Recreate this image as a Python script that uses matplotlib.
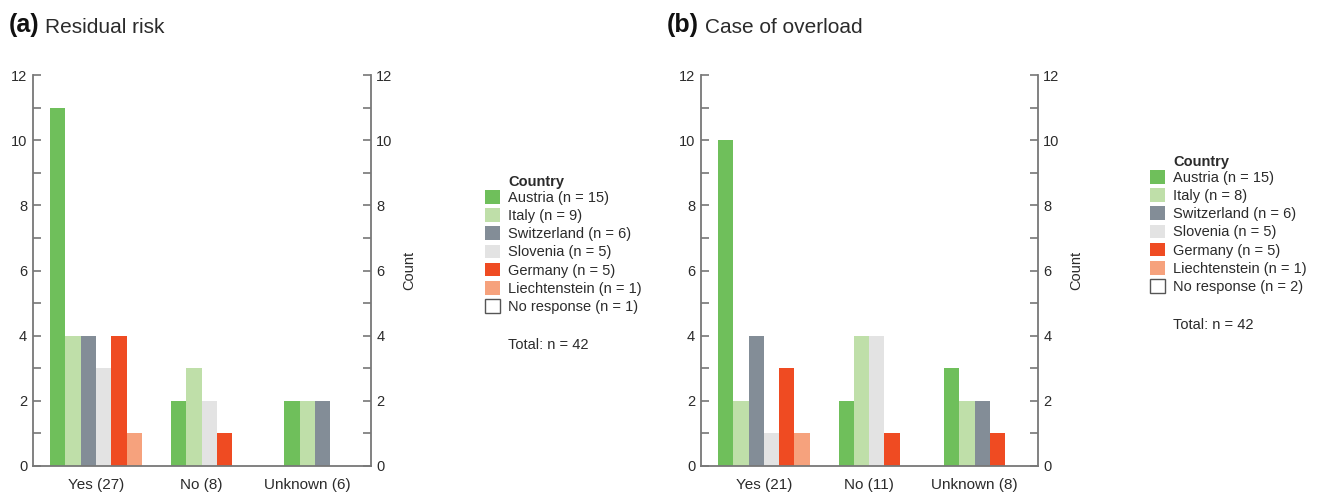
import numpy as np
import matplotlib
matplotlib.use("Agg")
import matplotlib.pyplot as plt
from matplotlib.patches import Patch

plt.rcParams['font.family'] = ['Liberation Sans', 'DejaVu Sans']

countries = ["Austria", "Italy", "Switzerland", "Slovenia", "Germany", "Liechtenstein"]
country_colors = ["#6fbf5b", "#bfdfa9", "#838d97", "#e3e3e3", "#ef4b22", "#f6a27d"]

# (a) Residual risk: counts per answer, in country order
risk_answers = ["Yes (27)", "No (8)", "Unknown (6)"]
risk_yes = [11, 4, 4, 3, 4, 1]
risk_no = [2, 3, 0, 2, 1, 0]
risk_unknown = [2, 2, 2, 0, 0, 0]
risk_country_n = [15, 9, 6, 5, 5, 1]
risk_no_response = 1

# (b) Case of overload
overload_answers = ["Yes (21)", "No (11)", "Unknown (8)"]
overload_yes = [10, 2, 4, 1, 3, 1]
overload_no = [2, 4, 0, 4, 1, 0]
overload_unknown = [3, 2, 2, 0, 1, 0]
overload_country_n = [15, 8, 6, 5, 5, 1]
overload_no_response = 2

total_n = 42

W, H = 1322, 496
fig = plt.figure(figsize=(W / 100, H / 100), dpi=100)

spine_col = "#777777"
text_col = "#2b2b2b"
bar_w = 0.145


def px(x, y):
    """Pixel position (from top-left) to figure fraction."""
    return x / W, 1 - y / H


def draw_panel(ax, answers, groups):
    for gi, counts in enumerate(groups):
        present = [i for i, c in enumerate(counts) if c > 0]
        n = len(present)
        for k, ci in enumerate(present):
            xpos = gi + (k - (n - 1) / 2) * bar_w
            ax.bar(xpos, counts[ci], width=bar_w, color=country_colors[ci],
                   linewidth=0, zorder=2)
    ax.set_xlim(-0.6, 2.6)
    ax.set_ylim(0, 12)
    ax.set_xticks(range(len(answers)))
    ax.set_xticklabels(answers, fontsize=11, color=text_col)
    ax.set_yticks(range(0, 13, 2))
    ax.set_yticks(range(1, 12, 2), minor=True)
    ax.tick_params(axis='x', length=0, pad=9)
    ax.tick_params(axis='y', which='both', direction='in', length=6,
                   width=1.2, color=spine_col, left=True, right=True,
                   labelleft=True, labelright=True, labelsize=10.5,
                   labelcolor=text_col, pad=4)
    ax.spines['top'].set_visible(False)
    for s in ['left', 'right', 'bottom']:
        ax.spines[s].set_color(spine_col)
        ax.spines[s].set_linewidth(1.3)
    ax.yaxis.set_label_position('right')
    ax.set_ylabel("Count", fontsize=10.5, color=text_col, labelpad=7)


def draw_legend(x0, y0, country_n, no_response):
    handles = [Patch(facecolor=c, edgecolor='none') for c in country_colors]
    handles.append(Patch(facecolor='white', edgecolor='#555555', linewidth=1))
    labels = [f"{c} (n = {n})" for c, n in zip(countries, country_n)]
    labels.append(f"No response (n = {no_response})")
    fig.text(*px(x0 + 23, y0 - 8), "Country", fontsize=10.5,
             fontweight='bold', color=text_col, ha='left', va='center')
    fig.legend(handles, labels, loc='upper left',
               bbox_to_anchor=px(x0, y0), bbox_transform=fig.transFigure,
               frameon=False, fontsize=10.5, handlelength=1.05,
               handleheight=1.05, handletextpad=0.5, labelspacing=0.24,
               borderpad=0, borderaxespad=0, labelcolor=text_col)
    fig.text(*px(x0 + 23, y0 + 155), f"Total: n = {total_n}", fontsize=10.5,
             color=text_col, ha='left', va='center')


def draw_title(x, tag, title):
    t = fig.text(*px(x, 25), tag, fontsize=18, fontweight='bold',
                 color='#111111', ha='left', va='center')
    fig.text(0, 0, "")
    return plt.annotate(title, xy=(1, 0), xycoords=t, xytext=(4, 0),
                        textcoords='offset points', fontsize=15,
                        color=text_col, ha='left', va='bottom')


ax_a = fig.add_axes([32.7 / W, 30.3 / H, 338 / W, 390.4 / H])
draw_panel(ax_a, risk_answers, [risk_yes, risk_no, risk_unknown])
ax_b = fig.add_axes([700.7 / W, 30.3 / H, 337 / W, 390.4 / H])
draw_panel(ax_b, overload_answers, [overload_yes, overload_no, overload_unknown])

draw_legend(485, 190, risk_country_n, risk_no_response)
draw_legend(1150, 170, overload_country_n, overload_no_response)

draw_title(9, "(a)", "Residual risk")
draw_title(667, "(b)", "Case of overload")

fig.savefig("out.png", dpi=100, facecolor='white')
